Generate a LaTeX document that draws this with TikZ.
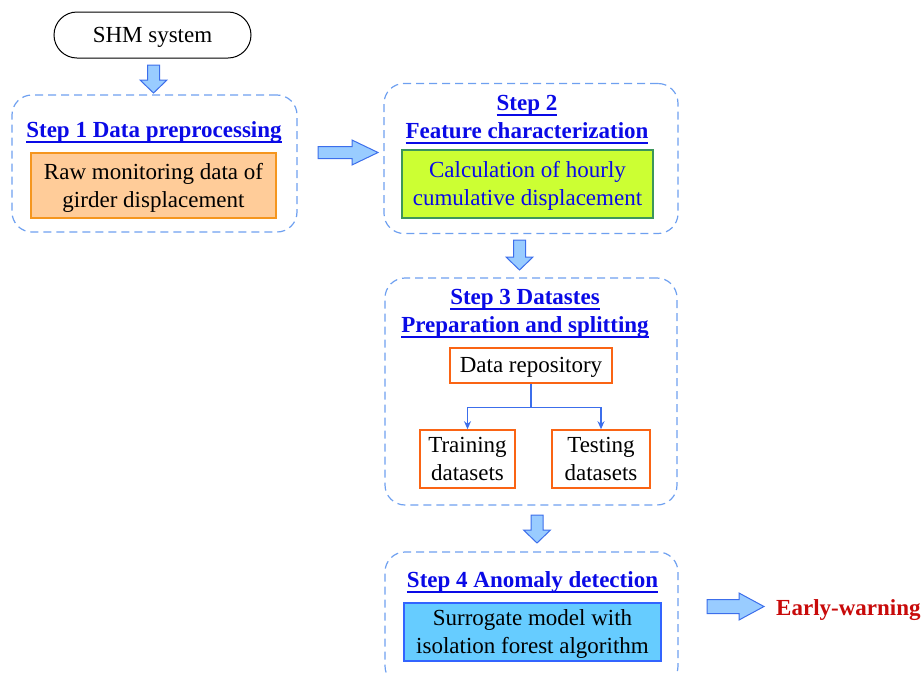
\documentclass[tikz,border=0pt]{standalone}
\usepackage{fontspec}
\setmainfont{Liberation Serif}
\usetikzlibrary{arrows.meta}

% underlined title line: text with a rule just below the descenders
\newsavebox{\ulinebox}
\newcommand{\titleline}[1]{\sbox{\ulinebox}{#1}\leavevmode
  \rlap{\usebox{\ulinebox}}\raisebox{-5.5pt}{\rule{\wd\ulinebox}{1.5pt}}}

\definecolor{titleblue}{RGB}{10,10,230}
\definecolor{dashblue}{RGB}{110,160,240}
\definecolor{arrowfill}{RGB}{153,204,255}
\definecolor{arrowline}{RGB}{60,110,235}
\definecolor{rawfill}{RGB}{255,204,153}
\definecolor{rawline}{RGB}{245,150,30}
\definecolor{featfill}{RGB}{204,255,51}
\definecolor{featline}{RGB}{60,150,90}
\definecolor{setline}{RGB}{250,100,20}
\definecolor{modelfill}{RGB}{102,204,255}
\definecolor{modelline}{RGB}{50,100,255}
\definecolor{warnred}{RGB}{200,10,10}

\tikzset{
  x=1pt, y=-1pt,
  every node/.style={font=\fontsize{23}{28}\selectfont, inner sep=0pt},
  stepframe/.style={draw=dashblue, line width=1.2pt, dash pattern=on 8pt off 5pt,
    rounded corners=20pt},
  steptitle/.style={anchor=base, text=titleblue, font=\fontsize{23}{28}\selectfont\bfseries},
  contentbox/.style={draw, line width=1.6pt, align=center, text depth=1pt},
  barrow/.style={draw=arrowline, fill=arrowfill, line width=1pt, line join=miter},
  conn/.style={draw=arrowline, line width=1.2pt, -{Stealth[length=8pt,width=7pt]}},
  pics/downarrow/.style n args={4}{code={
    \path[barrow] (-#4,0) -- (#4,0) -- (#4,#1-#2) -- (#3,#1-#2) -- (0,#1)
      -- (-#3,#1-#2) -- (-#4,#1-#2) -- cycle;}},
  pics/rightarrow/.style n args={4}{code={
    \path[barrow] (0,-#4) -- (#1-#2,-#4) -- (#1-#2,-#3) -- (#1,0)
      -- (#1-#2,#3) -- (#1-#2,#4) -- (0,#4) -- cycle;}},
}

\begin{document}
\begin{tikzpicture}
\useasboundingbox (0,0) rectangle (921,673);

% source of the data
\node[draw, line width=1pt, rounded corners=23pt, minimum width=197pt,
      minimum height=46pt, text depth=1pt] (shm) at (152.5,35) {SHM system};

% step frames
\node[stepframe, minimum width=285pt, minimum height=137pt] (s1) at (154.5,163.5) {};
\node[stepframe, minimum width=294pt, minimum height=150pt] (s2) at (531,158.5) {};
\node[stepframe, minimum width=292pt, minimum height=227pt] (s3) at (531,391.5) {};
\node[stepframe, minimum width=293pt, minimum height=134pt] (s4) at (531.5,619) {};

% step titles
\node[steptitle] (t1) at (154,137) {\titleline{Step 1 Data preprocessing}};
\node[steptitle] (t2a) at (527,110) {\titleline{Step 2}};
\node[steptitle] (t2b) at (527,138) {\titleline{Feature characterization}};
\node[steptitle] (t3a) at (525,304) {\titleline{Step 3 Datastes}};
\node[steptitle] (t3b) at (525,332) {\titleline{Preparation and splitting}};
\node[steptitle] (t4) at (532.5,587) {\titleline{Step 4 Anomaly detection}};

% step contents
\node[contentbox, draw=rawline, fill=rawfill, minimum width=245pt, minimum height=65pt]
  (raw) at (153.5,185.5) {Raw monitoring data of\\girder displacement};
\node[contentbox, draw=featline, fill=featfill, text=titleblue, minimum width=251pt,
      minimum height=68pt]
  (feat) at (527.5,184) {Calculation of hourly\\cumulative displacement};
\node[contentbox, draw=setline, fill=white, minimum width=162pt, minimum height=35pt]
  (repo) at (531,365.5) {Data repository};
\node[contentbox, draw=setline, fill=white, minimum width=95pt, minimum height=58pt]
  (train) at (467.5,459) {Training\\datasets};
\node[contentbox, draw=setline, fill=white, minimum width=98pt, minimum height=58pt]
  (test) at (601,459) {Testing\\datasets};
\node[contentbox, draw=modelline, fill=modelfill, minimum width=257pt, minimum height=58pt]
  (model) at (532.5,632) {Surrogate model with\\isolation forest algorithm};

% dataset split
\coordinate (split) at ([yshift=-24pt]repo.south);
\draw[conn] (repo.south) -- (split) -| (train.north);
\draw[conn] (split) -| (test.north);

% flow arrows between steps
\pic at (153.5,65) {downarrow={28}{13}{13.5}{6}};
\pic at (318,152.5) {rightarrow={60}{26}{12.5}{6}};
\pic at (519.5,240) {downarrow={30}{13}{13.5}{6}};
\pic at (537,515) {downarrow={28}{13}{13.5}{6}};
\pic at (707,606.5) {rightarrow={57}{25}{13.5}{7}};

\node[anchor=base west, text=warnred, font=\fontsize{23}{28}\selectfont\bfseries]
  (warn) at (776,615) {Early-warning};
\end{tikzpicture}
\end{document}
